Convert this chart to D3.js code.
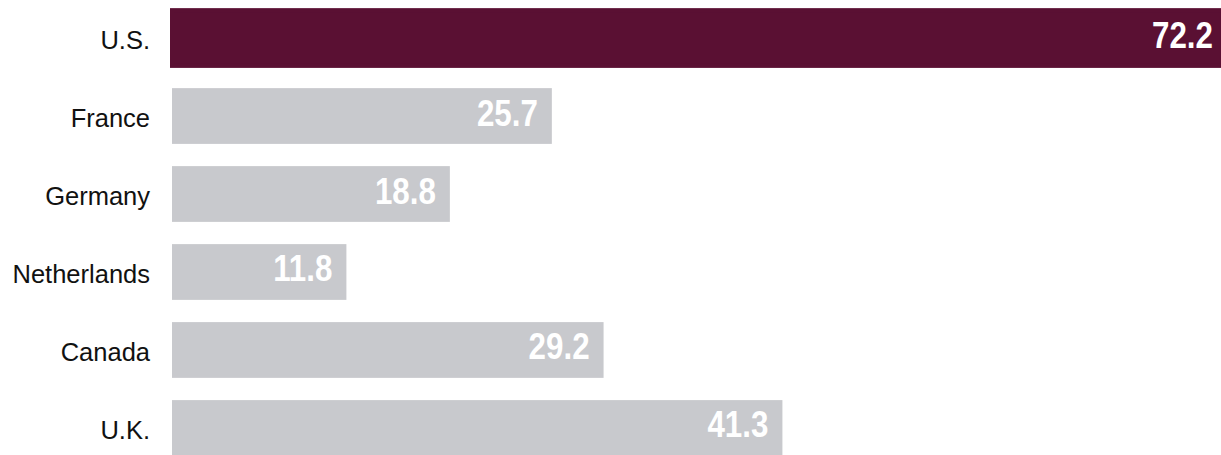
<!DOCTYPE html>
<html>
<head>
<meta charset="utf-8">
<script src="https://cdn.jsdelivr.net/npm/d3@7"></script>
<style>
  body { margin: 0; background: #fff; }
  svg { display: block; }
  .cat { font-family: "Liberation Sans", Arial, sans-serif; font-size: 25.5px; fill: #111; }
  .val { font-family: "Liberation Sans", Arial, sans-serif; font-weight: bold; font-size: 36px; fill: #fff; }
</style>
</head>
<body>
<svg id="canvas" width="1221" height="455"></svg>
<script>
// data
var countries = ['U.S.', 'France', 'Germany', 'Netherlands', 'Canada', 'U.K.'];
var values = [72.2, 25.7, 18.8, 11.8, 29.2, 41.3];
var highlight = 'U.S.';

var canvas_width = 1221, canvas_height = 455;
var svg = d3.select('#canvas');

var x0 = 172;
var xScale = d3.scaleLinear().domain([0, 72.2]).range([x0, x0 + 72.2 * 14.78]);
var yScale = d3.scaleBand().domain(countries).range([0, 466]).paddingInner(0.285).paddingOuter(0.13);

var bars = svg.append('g');
bars.selectAll('rect').data(countries).enter().append('rect')
  .attr('x', xScale(0))
  .attr('y', d => yScale(d))
  .attr('width', (d, i) => xScale(values[i]) - xScale(0))
  .attr('height', yScale.bandwidth())
  .attr('fill', d => d === highlight ? '#5a1033' : '#c8c9cd')
  .attr('stroke', d => d === highlight ? '#5a1033' : 'none')
  .attr('stroke-width', 4);

// value labels inside bar ends, condensed by a horizontal scale
svg.append('g').selectAll('text').data(countries).enter().append('text')
  .attr('class', 'val')
  .attr('transform', (d, i) => {
    var tx = Math.min(xScale(values[i]), canvas_width - 8) - (d === highlight ? 0 : 14);
    var ty = yScale(d) + yScale.bandwidth() / 2 + 9.5;
    return 'translate(' + tx + ',' + ty + ') scale(0.87,1)';
  })
  .attr('text-anchor', 'end')
  .text((d, i) => values[i].toFixed(1));

// category labels
svg.append('g').selectAll('text').data(countries).enter().append('text')
  .attr('class', 'cat')
  .attr('x', 150)
  .attr('y', d => yScale(d) + yScale.bandwidth() / 2 + 11)
  .attr('text-anchor', 'end')
  .text(d => d);
</script>
</body>
</html>
